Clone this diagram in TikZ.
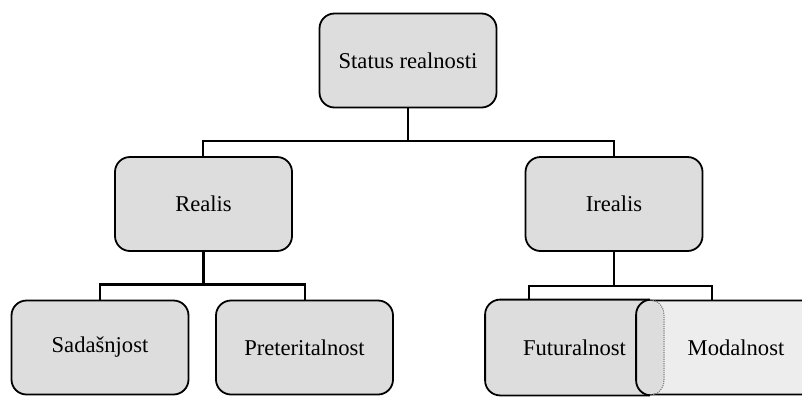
\documentclass[tikz,border=0pt]{standalone}
\usepackage{fontspec}
\setmainfont{Liberation Serif}
\begin{document}
\begin{tikzpicture}[x=1pt,y=-1pt,
  box/.style={rectangle, rounded corners=15pt, draw=black, line width=1.8pt,
    fill=boxgray, minimum width=177pt, minimum height=94pt, inner sep=0pt,
    font=\fontsize{22.6pt}{26pt}\selectfont},
  link/.style={line width=2.2pt, draw=black}]
\definecolor{boxgray}{HTML}{DDDDDD}
\definecolor{lightgray}{HTML}{EDEDED}
\useasboundingbox (0,0) rectangle (802,397);
% boxes
\node[box] (status) at (408,60.5) {Status realnosti};
\node[box] (realis) at (203.5,204) {Realis};
\node[box] (irealis) at (614,204) {Irealis};
\node[box] (sadas) at (100,347.5) {Sadašnjost};
\node[box] (preter) at (304.5,347.5) {Preteritalnost};
\node[box, fill=lightgray, minimum width=180pt] (modal) at (727,347.5) {};
\node[box, draw=none] (futur) at (574.5,347.5) {};
% borders of overlapping boxes
\begin{scope}
  \clip (0,0) rectangle (650,397);
  \draw[line width=1.8pt, rounded corners=15pt] (futur.south west) rectangle (futur.north east);
  \draw[line width=1.8pt, rounded corners=15pt] (modal.south west) rectangle (modal.north east);
\end{scope}
\begin{scope}
  \clip (650,0) rectangle (802,397);
  \draw[line width=1.2pt, rounded corners=15pt, draw=gray, densely dotted] (futur.south west) rectangle (futur.north east);
\end{scope}
\node[font=\fontsize{22.6pt}{26pt}\selectfont] (futurtext) at (futur.center) {Futuralnost};
\node[font=\fontsize{22.6pt}{26pt}\selectfont] (modaltext) at (736,347.5) {Modalnost};
% connectors
\coordinate (b1l) at (203,141);
\coordinate (b1r) at (614,141);
\coordinate (b2l) at (100,284.5);
\coordinate (b2r) at (305,284.5);
\coordinate (b3l) at (529,286);
\coordinate (b3r) at (712,286);
\draw[link] (status.south) -- (status.south |- b1l);
\draw[link] (b1l |- realis.north) -- (b1l) -- (b1r) -- (b1r |- irealis.north);
\draw[link] (realis.south) -- (realis.south |- b2l);
\draw[link] (b2l |- sadas.north) -- (b2l) -- (b2r) -- (b2r |- preter.north);
\draw[link] (irealis.south) -- (irealis.south |- b3l);
\draw[link] (b3l |- futur.north) -- (b3l) -- (b3r) -- (b3r |- modal.north);
\end{tikzpicture}
\end{document}
